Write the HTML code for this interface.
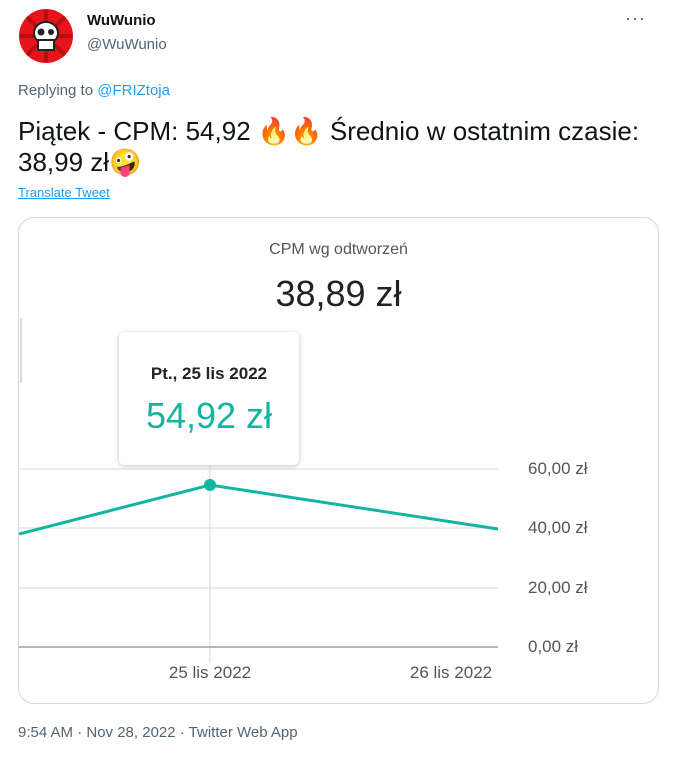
<!DOCTYPE html>
<html><head><meta charset="utf-8"><style>
body{margin:0;width:675px;height:760px;background:#fff;font-family:"Liberation Sans","Noto Sans CJK JP",sans-serif;position:relative;overflow:hidden}
.a{position:absolute;white-space:nowrap}
</style></head><body>
<svg class="a" style="left:18px;top:8px" width="56" height="56" viewBox="0 0 56 56">
<circle cx="28" cy="28" r="27" fill="#e8141c"/>
<g stroke="#b80d12" stroke-width="4"><line x1="28" y1="2" x2="28" y2="54"/><line x1="2" y1="28" x2="54" y2="28"/><line x1="9" y1="9" x2="47" y2="47"/><line x1="47" y1="9" x2="9" y2="47"/></g>
<ellipse cx="28" cy="25" rx="12" ry="11" fill="#fff" stroke="#222" stroke-width="2"/>
<rect x="20" y="32" width="16" height="10" fill="#fff" stroke="#222" stroke-width="2"/>
<circle cx="23" cy="24" r="3.5" fill="#222"/><circle cx="33" cy="24" r="3" fill="#222"/>
</svg>
<div class="a" style="left:87px;top:12px;font-weight:bold;font-size:15px;color:#0f1419">WuWunio</div>
<div class="a" style="left:87px;top:36px;font-size:15px;color:#536471">@WuWunio</div>
<div class="a" style="left:625px;top:8px;font-size:18px;color:#536471;letter-spacing:1px">···</div>
<div class="a" style="left:18px;top:82px;font-size:15px;color:#536471">Replying to <span style="color:#1d9bf0">@FRIZtoja</span></div>
<div class="a" style="left:18px;top:116px;font-size:26px;color:#0f1419;line-height:31px">Piątek - CPM: 54,92 🔥🔥 Średnio w ostatnim czasie:<br>38,99 zł🤪</div>
<div class="a" style="left:18px;top:185px;font-size:13px;color:#1d9bf0;text-decoration:underline">Translate Tweet</div>
<div class="a" style="left:18px;top:217px;width:639px;height:485px;border:1px solid #cfd9de;border-radius:16px;overflow:hidden">
<svg width="639" height="485" style="position:absolute;left:0;top:0">
<line x1="2" y1="100" x2="2" y2="165" stroke="#ddd" stroke-width="2"/>
<g stroke="#e0e0e0" stroke-width="1.3"><line x1="0" y1="251" x2="479" y2="251"/><line x1="0" y1="310" x2="479" y2="310"/><line x1="0" y1="370" x2="479" y2="370"/><line x1="191" y1="248" x2="191" y2="445"/></g>
<line x1="0" y1="429" x2="479" y2="429" stroke="#9e9e9e" stroke-width="1.5"/>
<polyline points="0,316 191,267 479,311" fill="none" stroke="#12b5a0" stroke-width="3"/>
<circle cx="191" cy="267" r="6" fill="#12b5a0"/>
<g font-size="17" fill="#555" font-family="Liberation Sans,sans-serif"><text x="509" y="256">60,00 zł</text><text x="509" y="315">40,00 zł</text><text x="509" y="375">20,00 zł</text><text x="509" y="434">0,00 zł</text>
<text x="191" y="460" text-anchor="middle">25 lis 2022</text><text x="432" y="460" text-anchor="middle">26 lis 2022</text></g>
</svg>
<div class="a" style="left:0;width:639px;text-align:center;top:23px;font-size:16px;color:#555">CPM wg odtworzeń</div>
<div class="a" style="left:0;width:639px;text-align:center;top:55px;font-size:36px;color:#222">38,89 zł</div>
<div class="a" style="left:100px;top:114px;width:180px;height:133px;background:#fff;border-radius:5px;box-shadow:0 1px 4px rgba(0,0,0,.25)">
<div class="a" style="left:0;width:180px;text-align:center;top:32px;font-size:17px;color:#222;font-weight:bold;-webkit-text-stroke:0">Pt., 25 lis 2022</div>
<div class="a" style="left:0;width:180px;text-align:center;top:63px;font-size:36px;color:#12b5a0">54,92 zł</div>
</div>
</div>
<div class="a" style="left:18px;top:724px;font-size:15px;color:#536471">9:54 AM · Nov 28, 2022 · Twitter Web App</div>
</body></html>
